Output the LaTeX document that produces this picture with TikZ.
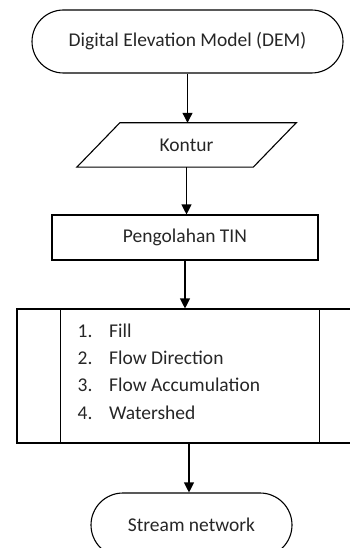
\documentclass[tikz,border=0pt]{standalone}
\usepackage{fontspec}
\setmainfont{Carlito}
\usetikzlibrary{shapes.misc,arrows.meta,calc}
\begin{document}
\begin{tikzpicture}[x=1pt,y=-1pt,
  txt/.style={font=\fontsize{19.5}{23}\selectfont, text=black!85},
  box/.style={draw, line width=1.1pt, inner sep=0pt, txt},
  term/.style={box, rounded rectangle},
  arr/.style={-{Triangle[length=10pt,width=10pt]}, line width=1.1pt},
  item/.style={txt, anchor=base west, inner sep=0pt}]
\useasboundingbox (0,0) rectangle (350,548);
\clip (0,0) rectangle (350,548);
\node[term, minimum width=311pt, minimum height=63pt] (dem) at (187.5,41.5) {Digital Elevation Model (DEM)};
\node[txt, inner sep=0pt, minimum width=219pt, minimum height=44pt] (kontur) at (186.5,145) {Kontur};
\draw[line width=1.1pt] (kontur.south west) -- ($(kontur.north west)+(43,0)$) -- (kontur.north east) -- ($(kontur.south east)+(-43,0)$) -- cycle;
\node[box, minimum width=266pt, minimum height=45pt] (tin) at (185,237.5) {Pengolahan TIN};
\node[box, minimum width=346pt, minimum height=134pt] (proc) at (190,376) {};
\draw[line width=1.1pt] ($(proc.north west)+(44,0)$) -- ($(proc.south west)+(44,0)$);
\draw[line width=1.1pt] ($(proc.north east)+(-44,0)$) -- ($(proc.south east)+(-44,0)$);
\node[item] (n1) at (77.5,337) {1.};
\node[item] (t1) at (109,337) {Fill};
\node[item] (n2) at (77.5,364.3) {2.};
\node[item] (t2) at (109,364.3) {Flow Direction};
\node[item] (n3) at (77.5,391.6) {3.};
\node[item] (t3) at (109,391.6) {Flow Accumulation};
\node[item] (n4) at (77.5,419) {4.};
\node[item] (t4) at (109,419) {Watershed};
\node[term, minimum width=201pt, minimum height=64pt] (stream) at (191.5,525) {Stream network};
\draw[arr] (dem.south) -- (dem.south |- kontur.north);
\draw[arr] (kontur.south) -- (kontur.south |- tin.north);
\draw[arr] (tin.south) -- (tin.south |- proc.north);
\draw[arr] (proc.south -| 189,0) -- (stream.north -| 189,0);
\end{tikzpicture}
\end{document}
